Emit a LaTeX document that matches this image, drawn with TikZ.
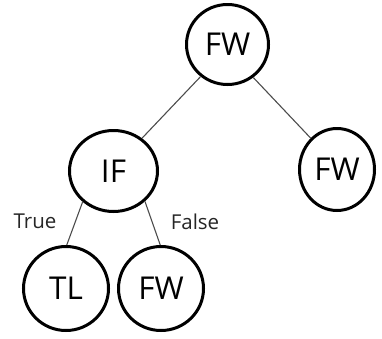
\documentclass[tikz,border=0pt]{standalone}
\usepackage{fontspec}
\setmainfont{Open Sans}
\usetikzlibrary{shapes.geometric}
\begin{document}
\begin{tikzpicture}[x=1pt,y=-1pt,
  tnode/.style={ellipse, draw, line width=3pt, inner sep=0pt, font=\fontsize{31.5}{32}\selectfont},
  edge/.style={draw=black!70, line width=1.1pt},
  lbl/.style={font=\fontsize{20.5}{21}\selectfont, inner sep=0pt, text=black!85}]
\useasboundingbox (0,0) rectangle (382,338);
\node[tnode, minimum width=82pt, minimum height=80pt] (fw1) at (227.5,44.5) {FW};
\node[tnode, minimum width=88pt, minimum height=81pt] (if) at (113.5,171) {IF};
\node[tnode, minimum width=75pt, minimum height=82pt] (fw2) at (337,169.5) {FW};
\node[tnode, minimum width=85pt, minimum height=84pt] (tl) at (66,288.5) {TL};
\node[tnode, minimum width=85pt, minimum height=84pt] (fw3) at (161,288.5) {FW};
\draw[edge] (fw1.230) -- (if.49);
\draw[edge] (fw1.308) -- (fw2.130);
\draw[edge] (if.225) -- (tl.89);
\draw[edge] (if.316) -- (fw3.91);
\node[lbl] (t) at (35,221.5) {True};
\node[lbl] (f) at (195,221.5) {False};
\end{tikzpicture}
\end{document}
